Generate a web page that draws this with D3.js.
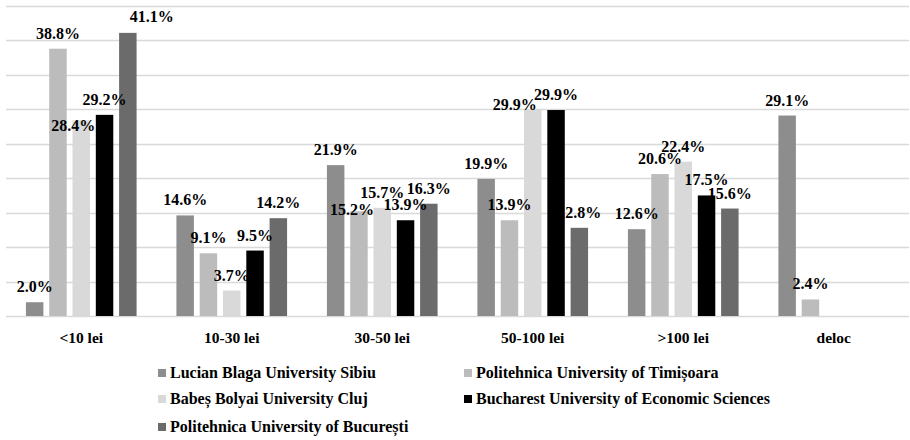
<!DOCTYPE html>
<html>
<head>
<meta charset="utf-8">
<script src="https://cdn.jsdelivr.net/npm/d3@7"></script>
<style>
  html, body { margin: 0; padding: 0; background: #fff; }
</style>
</head>
<body>
<svg id="chart" width="910" height="440"></svg>
<script>
// Share of students by amount spent, per university
const categories = ["<10 lei", "10-30 lei", "30-50 lei", "50-100 lei", ">100 lei", "deloc"];
const seriesNames = [
  "Lucian Blaga University Sibiu",
  "Politehnica University of Timișoara",
  "Babeș Bolyai University Cluj",
  "Bucharest University of Economic Sciences",
  "Politehnica University of București"
];
const lucianBlaga   = [2.0, 14.6, 21.9, 19.9, 12.6, 29.1];
const timisoara     = [38.8, 9.1, 15.2, 13.9, 20.6, 2.4];
const babesBolyai   = [28.4, 3.7, 15.7, 29.9, 22.4, null];
const bucharestEcon = [29.2, 9.5, 13.9, 29.9, 17.5, null];
const bucurestiPoli = [41.1, 14.2, 16.3, 12.8, 15.6, null];
const seriesValues = [lucianBlaga, timisoara, babesBolyai, bucharestEcon, bucurestiPoli];
const yTicks = [0, 5, 10, 15, 20, 25, 30, 35, 40, 45];

const colors = ["#8d8d8d", "#bcbcbc", "#d9d9d9", "#000000", "#6b6b6b"];
const FONT = "Liberation Serif";

const svg = d3.select("#chart");
svg.append("rect").attr("width", 910).attr("height", 440).attr("fill", "#fff");

const x0 = d3.scaleBand().domain(categories).range([6, 909]);
const x1 = d3.scaleBand().domain(d3.range(seriesNames.length))
  .range([0, x0.bandwidth()]).paddingInner(0.25).paddingOuter(0.855);
const y = d3.scaleLinear().domain([0, 45]).range([316, 6]);

// horizontal gridlines
svg.append("g").selectAll("line").data(yTicks).join("line")
  .attr("x1", 6).attr("x2", 909)
  .attr("y1", d => Math.round(y(d)) + 0.5).attr("y2", d => Math.round(y(d)) + 0.5)
  .attr("stroke", "#d9d9d9").attr("stroke-width", 1.3);

// flatten to bar records
const bars = [];
seriesValues.forEach((vals, s) => {
  vals.forEach((v, c) => {
    if (v != null) bars.push({ s, c, v, cat: categories[c] });
  });
});

svg.append("g").selectAll("rect").data(bars).join("rect")
  .attr("x", d => x0(d.cat) + x1(d.s))
  .attr("y", d => y(d.v))
  .attr("width", x1.bandwidth())
  .attr("height", d => y(0) - y(d.v))
  .attr("fill", d => colors[d.s]);

// label shifts that keep crowded value labels apart
const labelShift = {
  "0-2": [-8, 21],
  "0-4": [24, -1],
  "2-1": [-7, 14],
  "3-2": [-18, 10]
};
const shift = d => labelShift[d.c + "-" + d.s] || [0, 0];

svg.append("g").selectAll("text").data(bars).join("text")
  .attr("font-family", FONT).attr("font-weight", "bold")
  .attr("x", d => x0(d.cat) + x1(d.s) + x1.bandwidth() / 2 + shift(d)[0])
  .attr("y", d => y(d.v) - 10 + shift(d)[1])
  .attr("text-anchor", "middle")
  .attr("font-size", 16)
  .text(d => d.v.toFixed(1) + "%");

// category axis labels
svg.append("g").selectAll("text").data(categories).join("text")
  .attr("font-family", FONT).attr("font-weight", "bold")
  .attr("x", d => x0(d) + x0.bandwidth() / 2)
  .attr("y", 343)
  .attr("text-anchor", "middle")
  .attr("font-size", 15.5)
  .text(d => d);

// legend, two columns
const legendCols = [158, 464];
const legendRows = [373, 399, 427];
const legend = svg.append("g").selectAll("g").data(seriesNames).join("g")
  .attr("transform", (d, i) => `translate(${legendCols[i % 2]},${legendRows[Math.floor(i / 2)]})`);
legend.append("rect").attr("x", 0).attr("y", -4).attr("width", 8).attr("height", 8)
  .attr("fill", (d, i) => colors[i]);
legend.append("text").attr("font-family", FONT).attr("font-weight", "bold")
  .attr("x", 12).attr("y", 5).attr("font-size", 16).text(d => d);
</script>
</body>
</html>
